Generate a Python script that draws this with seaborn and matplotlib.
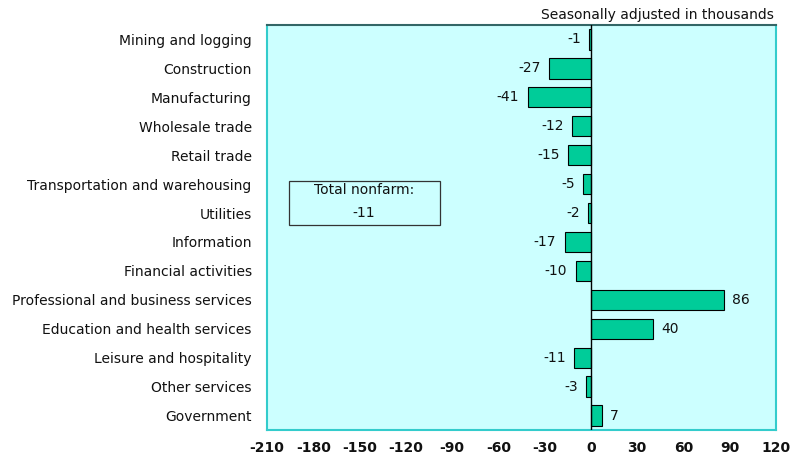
import matplotlib
matplotlib.use('Agg')
import matplotlib.pyplot as plt
import matplotlib.patches as mpatches
import numpy as np
import pandas as pd
import seaborn as sns

industries = ['Mining and logging', 'Construction', 'Manufacturing', 'Wholesale trade',
              'Retail trade', 'Transportation and warehousing', 'Utilities', 'Information',
              'Financial activities', 'Professional and business services',
              'Education and health services', 'Leisure and hospitality',
              'Other services', 'Government']
change = [-1, -27, -41, -12, -15, -5, -2, -17, -10, 86, 40, -11, -3, 7]
total_nonfarm = -11
xticks = [-210, -180, -150, -120, -90, -60, -30, 0, 30, 60, 90, 120]

df = pd.DataFrame({'industry': industries, 'change': change})

sns.set_style('white')
plt.rcParams['font.family'] = ['DejaVu Sans']
plt.rcParams['text.color'] = '#111111'
plt.rcParams['xtick.color'] = '#111111'
plt.rcParams['ytick.color'] = '#111111'
FS = 10

fig = plt.figure(figsize=(7.93, 4.65), dpi=100)
ax = fig.add_axes([0.3367, 0.0753, 0.6419, 0.8709])
ax.set_facecolor('#CCFFFF')

sns.barplot(data=df, x='change', y='industry', orient='h', color='#00CC99',
            edgecolor='black', linewidth=0.8, width=0.7, saturation=1, ax=ax)

ax.axvline(0, color='black', lw=1, zorder=3)
ax.set_xlim(-210, 120)
ax.set_ylim(len(industries) - 0.5, -0.5)
ax.set_xticks(xticks)
ax.set_xticklabels([str(t) for t in xticks], fontweight='bold', fontsize=FS)
ax.tick_params(axis='x', length=0, pad=8)
ax.tick_params(axis='y', length=0, labelsize=FS, pad=11)
ax.set_xlabel('')
ax.set_ylabel('')

for side in ['left', 'right', 'bottom']:
    ax.spines[side].set_color('#33CCCC')
    ax.spines[side].set_linewidth(1.5)
ax.spines['top'].set_color('#336666')
ax.spines['top'].set_linewidth(1.5)

# value labels next to each bar
for i, v in enumerate(change):
    if v < 0:
        ax.annotate(str(v), (v, i), xytext=(-6, 0), textcoords='offset points',
                    ha='right', va='center', fontsize=FS)
    else:
        ax.annotate(str(v), (v, i), xytext=(6, 0), textcoords='offset points',
                    ha='left', va='center', fontsize=FS)

# total nonfarm box
ax.add_patch(mpatches.Rectangle((-196, 4.88), 98, 1.52, fc='none', ec='#333333',
                                lw=0.9, zorder=4))
ax.text(-147, 5.22, 'Total nonfarm:', ha='center', va='center', fontsize=FS)
ax.text(-147, 6.0, str(total_nonfarm), ha='center', va='center', fontsize=FS)

ax.text(0.995, 1.008, 'Seasonally adjusted in thousands', transform=ax.transAxes,
        ha='right', va='bottom', fontsize=FS)

fig.savefig('out.png', dpi=100)
